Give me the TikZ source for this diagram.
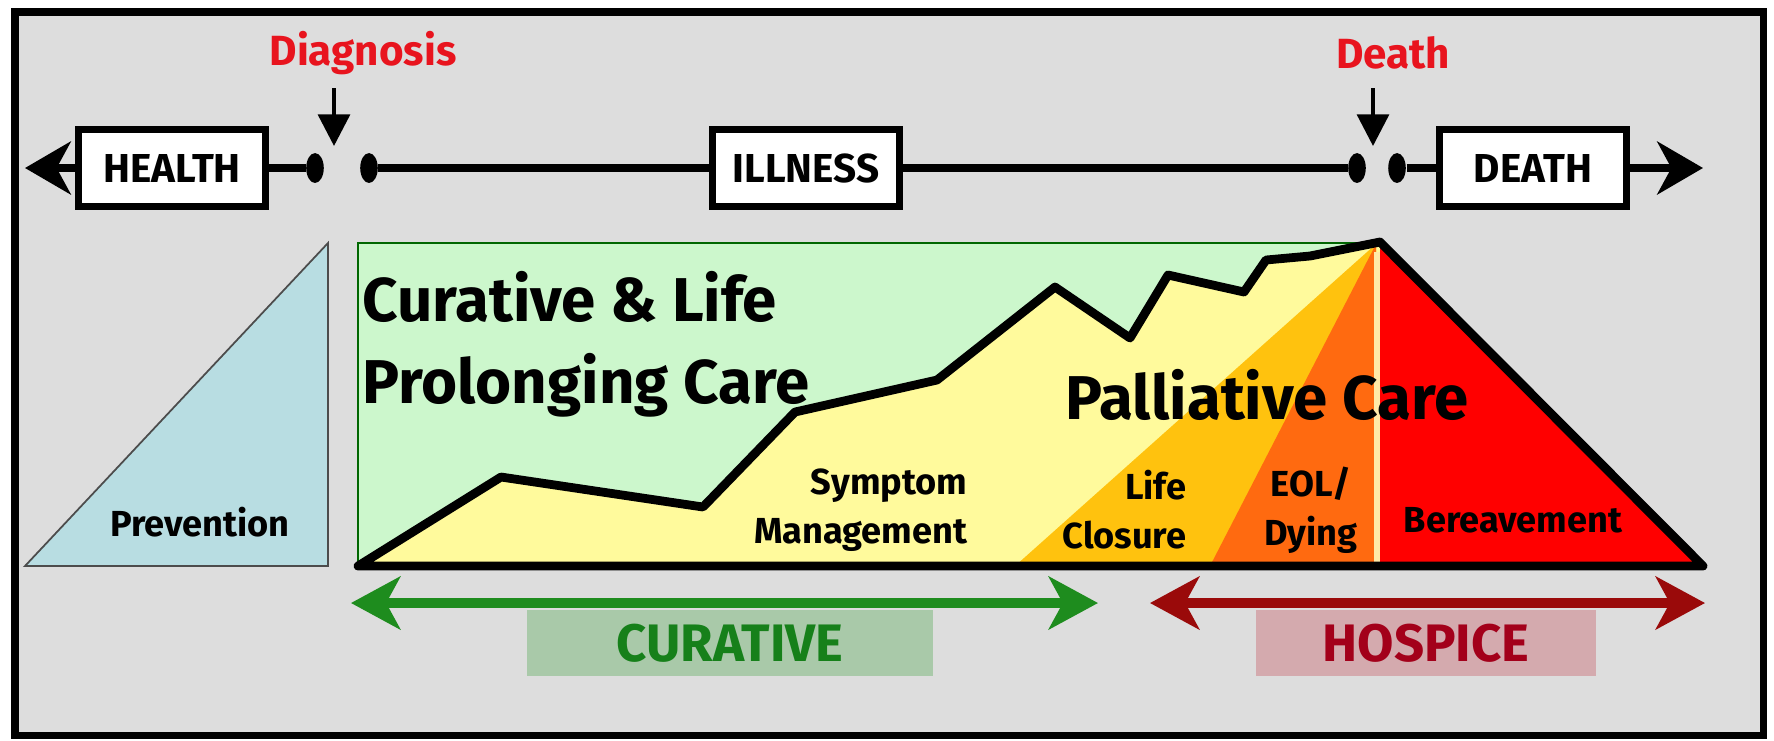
\documentclass[tikz,border=0pt]{standalone}
\usepackage{fontspec}
\setmainfont{Fira Sans}
\usetikzlibrary{arrows.meta,shapes.geometric}

\definecolor{bggrey}{HTML}{DDDDDD}
\definecolor{curegreen}{HTML}{CCF7CC}
\definecolor{symyellow}{HTML}{FFFA9C}
\definecolor{lifeamber}{HTML}{FFC20E}
\definecolor{eolorange}{HTML}{FF6A10}
\definecolor{bereavred}{HTML}{FF0000}
\definecolor{lightcream}{HTML}{FFE9A8}
\definecolor{prevblue}{HTML}{B8DDE2}
\definecolor{markred}{HTML}{E8141E}
\definecolor{arrowgreen}{HTML}{1E8C1E}
\definecolor{labelgreen}{HTML}{A9C9A9}
\definecolor{textgreen}{HTML}{16801A}
\definecolor{arrowred}{HTML}{9A0A0A}
\definecolor{labelred}{HTML}{D4AAAE}
\definecolor{textred}{HTML}{A3001A}

\tikzset{
  stagebox/.style={draw,line width=2pt,fill=white,inner sep=0pt,
    minimum width=53pt,minimum height=22pt,font=\bfseries\fontsize{11.5}{13}\selectfont},
  dot/.style={ellipse,fill=black,inner sep=0pt,minimum width=5pt,minimum height=8.5pt},
  timeline/.style={line width=2.4pt},
  timearrow/.style={line width=2.4pt,-{Stealth[length=13pt,width=15pt,inset=4pt]}},
  markarrow/.style={line width=1.2pt,-{Triangle[length=9pt,width=9pt]}},
  marklabel/.style={text=markred,font=\bfseries\fontsize{12}{14}\selectfont},
  bigtext/.style={font=\bfseries\fontsize{17.6}{23.3}\selectfont,inner sep=0pt},
  smalltext/.style={font=\bfseries\fontsize{10.3}{14}\selectfont,inner sep=0pt},
  spanarrow/.style={line width=2.6pt,
    {Stealth[length=14pt,width=15pt,inset=4pt]}-{Stealth[length=14pt,width=15pt,inset=4pt]}},
  spanlabel/.style={inner sep=0pt,font=\bfseries\fontsize{15}{17}\selectfont},
}

\begin{document}
\begin{tikzpicture}[x=0.1mm,y=-0.1mm]
  \useasboundingbox (0,0) rectangle (1774,740);
  \fill[white] (0,0) rectangle (1774,740);
  \draw[line width=2pt,fill=bggrey] (15,12) rectangle (1763,735);

  % timeline
  \path (172,168) node[stagebox] (health) {HEALTH};
  \path (806,168) node[stagebox] (illness) {ILLNESS};
  \path (1533,168) node[stagebox] (death) {DEATH};
  \path (315,168) node[dot] (d1) {};
  \path (369,168) node[dot] (d2) {};
  \path (1357,168) node[dot] (d3) {};
  \path (1397,168) node[dot] (d4) {};
  \coordinate (leftend) at (25,168);
  \coordinate (rightend) at (1703,168);
  \draw[timearrow] (health) -- (leftend);
  \draw[timeline] (health) -- (d1);
  \draw[timeline] (d2) -- (illness);
  \draw[timeline] (illness) -- (d3);
  \draw[timeline] (d4) -- (death);
  \draw[timearrow] (death) -- (rightend);

  \path (363,53) node[marklabel] (diagnosis) {Diagnosis};
  \path (1393,53) node[marklabel] (deathmark) {Death};
  \coordinate (diagtop) at (334,88);
  \coordinate (diagtip) at (334,146);
  \coordinate (deathtop) at (1373,88);
  \coordinate (deathtip) at (1373,146);
  \draw[markarrow] (diagtop) -- (diagtip);
  \draw[markarrow] (deathtop) -- (deathtip);

  % prevention
  \draw[fill=prevblue,draw=black!70,line width=0.5pt] (25,566) -- (328,243) -- (328,566) -- cycle;

  % care areas
  \draw[fill=curegreen,draw=black!60!green,line width=0.7pt] (358,243) rectangle (1380,566);
  \fill[symyellow] (358,566) -- (501,477) -- (703,507) -- (795,412) -- (937,380) -- (1055,287)
    -- (1130,338) -- (1168,275) -- (1244,292) -- (1266,260) -- (1310,256) -- (1380,242)
    -- (1380,566) -- cycle;
  \fill[lifeamber] (1015,566) -- (1376,244) -- (1376,566) -- cycle;
  \fill[eolorange] (1210,566) -- (1376,244) -- (1376,566) -- cycle;
  \fill[bereavred] (1380,242) -- (1703,566) -- (1380,566) -- cycle;
  \draw[lightcream,line width=1.8pt] (1377,252) -- (1377,564);
  \draw[line width=2.5pt,line join=round] (358,566) -- (501,477) -- (703,507) -- (795,412)
    -- (937,380) -- (1055,287) -- (1130,338) -- (1168,275) -- (1244,292) -- (1266,260)
    -- (1310,256) -- (1380,242) -- (1703,566) -- cycle;

  % labels
  \path (362,271) node[bigtext,anchor=north west,align=left] (curtitle) {Curative \& Life\\Prolonging Care};
  \path (1267,395) node[bigtext] (palltitle) {Palliative Care};
  \path (968,510) node[smalltext,anchor=east,align=right] (symptom) {Symptom\\Management};
  \path (1187,510) node[smalltext,anchor=east,align=right] (closure) {Life\\Closure};
  \path (1311,510) node[smalltext,align=center] (dying) {EOL/\\Dying};
  \path (1513,520) node[smalltext] (bereave) {Bereavement};
  \path (200,522) node[smalltext] (prevent) {Prevention};

  % spans
  \path (730,643) node[spanlabel,fill=labelgreen,text=textgreen,minimum width=115.5pt,minimum height=19pt] (curative) {CURATIVE};
  \path (1426,643) node[spanlabel,fill=labelred,text=textred,minimum width=96.7pt,minimum height=19pt] (hospice) {HOSPICE};
  \coordinate (curleft) at (351,603);
  \coordinate (curright) at (1098,603);
  \coordinate (hosleft) at (1150,603);
  \coordinate (hosright) at (1705,603);
  \draw[spanarrow,arrowgreen] (curleft) -- (curright);
  \draw[spanarrow,arrowred] (hosleft) -- (hosright);
\end{tikzpicture}
\end{document}
